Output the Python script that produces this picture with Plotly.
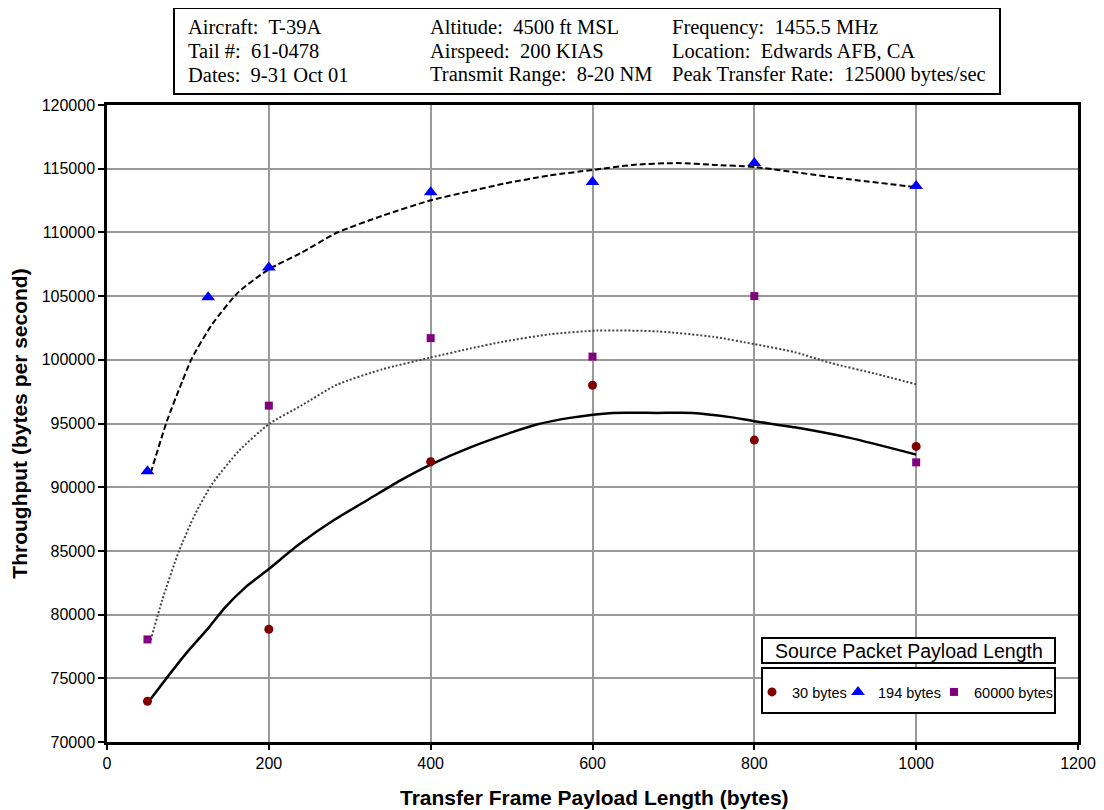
import plotly.graph_objects as go

# ---- measured data points ----
frame_len_30 = [50, 200, 400, 600, 800, 1000]
thru_30 = [73200, 78850, 92000, 98000, 93700, 93200]

frame_len_194 = [50, 125, 200, 400, 600, 800, 1000]
thru_194 = [91250, 104900, 107250, 113150, 113950, 115450, 113650]

frame_len_60000 = [50, 200, 400, 600, 800, 1000]
thru_60000 = [78050, 96400, 101700, 100250, 105000, 91950]

# ---- trend curves ----
trend_x_30 = [54, 76, 97, 126, 146, 171, 200, 237, 280, 321, 362, 400, 449, 500, 531, 572, 625, 680, 724, 770, 800, 850, 918, 1000]
trend_y_30 = [73380, 75210, 76900, 79000, 80570, 82140, 83580, 85500, 87400, 88960, 90520, 91780, 93130, 94300, 94920, 95440, 95830, 95830, 95830, 95500, 95180, 94700, 93870, 92560]

trend_x_194 = [54, 74, 93, 105, 130, 163, 200, 240, 284, 340, 400, 450, 490, 547, 600, 650, 704, 750, 800, 900, 1000]
trend_y_194 = [91130, 95180, 98310, 100130, 102800, 105350, 107100, 108400, 109970, 111300, 112520, 113250, 113820, 114470, 114900, 115300, 115440, 115300, 115130, 114300, 113550]

trend_x_60000 = [54, 68, 89, 109, 130, 163, 200, 240, 284, 340, 400, 450, 490, 547, 607, 681, 750, 800, 850, 895, 950, 1000]
trend_y_60000 = [77980, 81100, 85000, 87900, 90260, 92850, 94950, 96400, 98040, 99250, 100180, 100900, 101430, 102000, 102300, 102230, 101800, 101230, 100600, 99740, 98900, 98080]

series_names = ["30 bytes", "194 bytes", "60000 bytes"]
x_ticks = [0, 200, 400, 600, 800, 1000, 1200]
y_ticks = [70000, 75000, 80000, 85000, 90000, 95000, 100000, 105000, 110000, 115000, 120000]
x_title = "Transfer Frame Payload Length (bytes)"
y_title = "Throughput (bytes per second)"

header_rows = [
    ["Aircraft:  T-39A", "Altitude:  4500 ft MSL", "Frequency:  1455.5 MHz"],
    ["Tail #:  61-0478", "Airspeed:  200 KIAS", "Location:  Edwards AFB, CA"],
    ["Dates:  9-31 Oct 01", "Transmit Range:  8-20 NM", "Peak Transfer Rate:  125000 bytes/sec"],
]

# the page body has an 8px margin, so the figure is drawn 8px in from the window corner
OFF = 8
W, H = 1096, 802
L, R, T, B = 99, 26, 97, 68
pw, ph = W - L - R, H - T - B


def px_x(p):  # window pixel -> paper x
    return (p - OFF - L) / pw


def px_y(p):  # window pixel -> paper y
    return (H - B - (p - OFF)) / ph


fig = go.Figure()

fig.add_trace(go.Scatter(x=trend_x_30, y=trend_y_30, mode="lines", showlegend=False,
                         line=dict(color="black", width=2.5, shape="spline", smoothing=0.6), hoverinfo="skip"))
fig.add_trace(go.Scatter(x=trend_x_194, y=trend_y_194, mode="lines", showlegend=False,
                         line=dict(color="black", width=2, dash="6px,3px", shape="spline", smoothing=0.6),
                         hoverinfo="skip"))
fig.add_trace(go.Scatter(x=trend_x_60000, y=trend_y_60000, mode="lines", showlegend=False,
                         line=dict(color="#444444", width=2, dash="2px,2px", shape="spline", smoothing=0.6),
                         hoverinfo="skip"))

fig.add_trace(go.Scatter(x=frame_len_30, y=thru_30, mode="markers", name=series_names[0], legend="legend",
                         marker=dict(symbol="circle", size=9, color="#800000")))
fig.add_trace(go.Scatter(x=frame_len_194, y=thru_194, mode="markers", name=series_names[1], legend="legend2",
                         marker=dict(symbol="triangle-up", size=12, color="#0000FF")))
fig.add_trace(go.Scatter(x=frame_len_60000, y=thru_60000, mode="markers", name=series_names[2], legend="legend3",
                         marker=dict(symbol="square", size=8, color="#800080",
                                     line=dict(color="#800080", width=0))))

axis_font = dict(family="Liberation Sans, Arial, sans-serif", size=16, color="black")
title_font = dict(family="Liberation Sans, Arial, sans-serif", size=21, color="black")

fig.update_xaxes(range=[0, 1200], tickvals=x_ticks, ticktext=[str(v) for v in x_ticks],
                 showgrid=True, gridcolor="#999999", gridwidth=1.5,
                 showline=True, linecolor="black", linewidth=2.5, mirror=True,
                 ticks="outside", ticklen=5, tickwidth=2, tickcolor="black",
                 tickfont=axis_font, zeroline=False, automargin=False)
fig.update_yaxes(range=[70000, 120000], tickvals=y_ticks, ticktext=[str(v) for v in y_ticks],
                 showgrid=True, gridcolor="#999999", gridwidth=1.5,
                 showline=True, linecolor="black", linewidth=2.5, mirror=True,
                 ticks="outside", ticklen=6, tickwidth=2, tickcolor="black",
                 tickfont=axis_font, zeroline=False, automargin=False,
                 title=dict(text="<b>" + y_title + "</b>", font=title_font, standoff=9))

shapes = []
annotations = []

# x-axis title
annotations.append(dict(text="<b>" + x_title + "</b>", xref="paper", yref="paper",
                        x=px_x(594), y=px_y(797), xanchor="center", yanchor="middle",
                        showarrow=False, font=title_font))

# header box
shapes.append(dict(type="rect", xref="paper", yref="paper",
                   x0=px_x(174), x1=px_x(1000), y0=px_y(94), y1=px_y(8),
                   line=dict(color="black", width=2), fillcolor="white"))
col_x = [186, 428, 670]
row_y = [27, 51, 75]
for r, row in enumerate(header_rows):
    for c, txt in enumerate(row):
        annotations.append(dict(text=txt, xref="paper", yref="paper",
                                x=px_x(col_x[c]), y=px_y(row_y[r]), xanchor="left", yanchor="middle",
                                showarrow=False,
                                font=dict(family="Liberation Serif, Times New Roman, serif", size=20.5, color="black")))

# legend title box
shapes.append(dict(type="rect", xref="paper", yref="paper",
                   x0=px_x(762), x1=px_x(1055), y0=px_y(663), y1=px_y(638),
                   line=dict(color="black", width=2), fillcolor="white"))
annotations.append(dict(text="Source Packet Payload Length", xref="paper", yref="paper",
                        x=px_x(908.5), y=px_y(651), xanchor="center", yanchor="middle", showarrow=False,
                        font=dict(family="Liberation Sans, Arial, sans-serif", size=19.5, color="black")))
# legend entries box
shapes.append(dict(type="rect", xref="paper", yref="paper",
                   x0=px_x(762), x1=px_x(1055), y0=px_y(713), y1=px_y(668),
                   line=dict(color="black", width=2), fillcolor="white", layer="above"))

legend_font = dict(family="Liberation Sans, Arial, sans-serif", size=14.5, color="black")
legend_marker_x = [778, 864, 960]


def legend_at(mx):
    return dict(orientation="h", x=px_x(mx - 26), y=px_y(692), xanchor="left", yanchor="middle",
                bgcolor="rgba(0,0,0,0)", borderwidth=0, itemwidth=30, font=legend_font)


fig.update_layout(
    width=W, height=H,
    margin=dict(l=L, r=R, t=T, b=B, autoexpand=False),
    paper_bgcolor="white", plot_bgcolor="white",
    shapes=shapes, annotations=annotations,
    legend=legend_at(legend_marker_x[0]),
    legend2=legend_at(legend_marker_x[1]),
    legend3=legend_at(legend_marker_x[2]),
)

fig.write_html("out.html")
